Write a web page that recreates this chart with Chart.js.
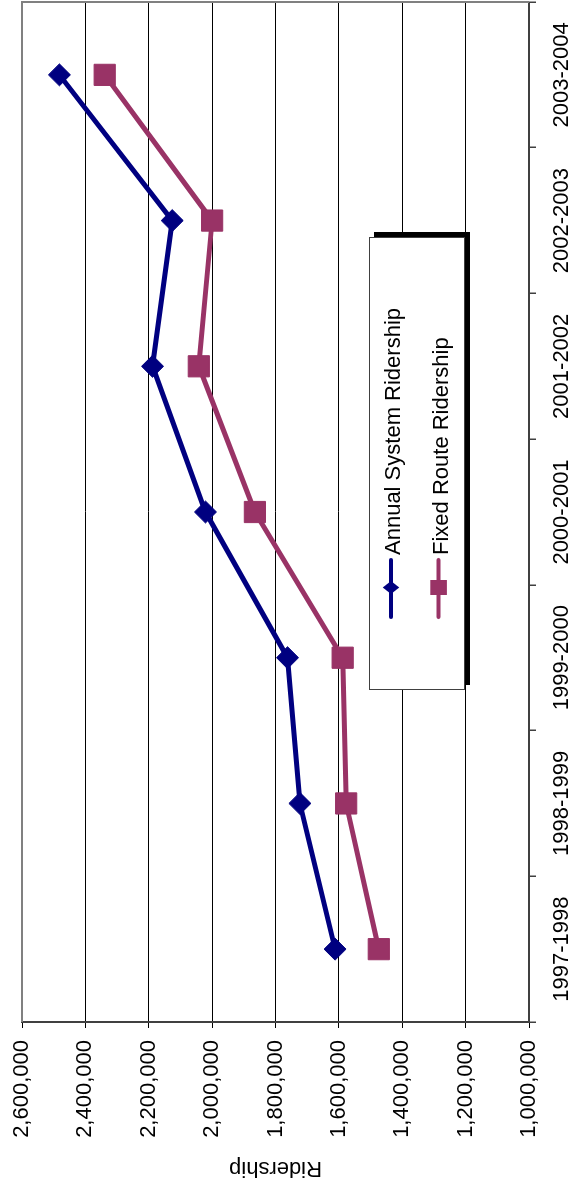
<!DOCTYPE html>
<html>
<head>
<meta charset="utf-8">
<title>Ridership</title>
<script src="https://cdn.jsdelivr.net/npm/chart.js@4/dist/chart.umd.min.js"></script>
<style>
  html, body { margin: 0; padding: 0; background: #fff; overflow: hidden; }
  body { width: 578px; height: 1181px; position: relative; }
  /* The chart is laid out landscape and turned a quarter turn counter-clockwise. */
  #frame {
    position: absolute; left: 0; top: 0;
    width: 1181px; height: 578px;
    transform-origin: 0 0;
    transform: translate(0, 1181px) rotate(-90deg);
  }
  canvas { display: block; }
</style>
</head>
<body>
<div id="frame"><canvas id="ridership" width="1181" height="578"></canvas></div>
<script>
// Fiscal years on the category axis
const fiscalYears = ['1997-1998', '1998-1999', '1999-2000', '2000-2001', '2001-2002', '2002-2003', '2003-2004'];

// Annual riders per year
const annualSystemRidership = [1612000, 1723000, 1762000, 2021000, 2188000, 2126000, 2482000];
const fixedRouteRidership   = [1474000, 1577000, 1588000, 1865000, 2042000, 2000000, 2339000];

// Value axis range and step
const ridershipMin = 1000000;
const ridershipMax = 2600000;
const ridershipStep = 200000;

const FONT = { family: '"Liberation Sans", Arial, sans-serif', size: 22 };
const NAVY = '#000080';
const PLUM = '#993366';

// Grey frame on the two open sides of the plot area
const plotFrame = {
  id: 'plotFrame',
  beforeDatasetsDraw(chart) {
    const { ctx, chartArea: a } = chart;
    ctx.save();
    ctx.strokeStyle = '#808080';
    ctx.lineWidth = 2;
    ctx.beginPath();
    ctx.moveTo(a.left, a.top);
    ctx.lineTo(a.right, a.top);
    ctx.lineTo(a.right, a.bottom);
    ctx.stroke();
    ctx.restore();
  }
};

// Boxed legend with a drop shadow, placed inside the plot
const boxedLegend = {
  id: 'boxedLegend',
  afterDatasetsDraw(chart) {
    const ctx = chart.ctx;
    const box = { x: 491, y: 369, w: 453, h: 96 };
    ctx.save();
    ctx.fillStyle = '#000';
    ctx.fillRect(box.x + 5, box.y + 5, box.w, box.h);
    ctx.fillStyle = '#fff';
    ctx.fillRect(box.x, box.y, box.w, box.h);
    ctx.strokeStyle = '#404040';
    ctx.lineWidth = 1;
    ctx.strokeRect(box.x + 0.5, box.y + 0.5, box.w - 1, box.h - 1);

    chart.data.datasets.forEach((ds, i) => {
      const cy = box.y + 22 + i * 47.6;
      const x0 = box.x + 73, x1 = box.x + 130, mx = box.x + 102.5;
      ctx.strokeStyle = ds.borderColor;
      ctx.lineWidth = 4;
      ctx.lineCap = 'round';
      ctx.beginPath();
      ctx.moveTo(x0, cy);
      ctx.lineTo(x1, cy);
      ctx.stroke();

      ctx.fillStyle = ds.borderColor;
      ctx.beginPath();
      if (ds.pointStyle === 'rectRot') {
        ctx.moveTo(mx - 6.5, cy);
        ctx.lineTo(mx, cy - 8.3);
        ctx.lineTo(mx + 6.5, cy);
        ctx.lineTo(mx, cy + 8.3);
        ctx.closePath();
      } else {
        ctx.rect(mx - 7.5, cy - 8.3, 15, 16.6);
      }
      ctx.fill();

      ctx.fillStyle = '#000';
      ctx.font = `${FONT.size}px ${FONT.family}`;
      ctx.textAlign = 'left';
      ctx.textBaseline = 'alphabetic';
      ctx.fillText(ds.label, box.x + 135, cy + 9);
    });
    ctx.restore();
  }
};

new Chart(document.getElementById('ridership'), {
  type: 'line',
  data: {
    labels: fiscalYears,
    datasets: [
      {
        label: 'Annual System Ridership',
        data: annualSystemRidership,
        borderColor: NAVY,
        backgroundColor: NAVY,
        borderWidth: 5,
        borderJoinStyle: 'round',
        borderCapStyle: 'round',
        pointStyle: 'rectRot',
        pointRadius: 11,
        pointBorderWidth: 1,
        pointBackgroundColor: NAVY,
        pointBorderColor: NAVY,
        tension: 0
      },
      {
        label: 'Fixed Route Ridership',
        data: fixedRouteRidership,
        borderColor: PLUM,
        backgroundColor: PLUM,
        borderWidth: 5,
        borderJoinStyle: 'round',
        borderCapStyle: 'round',
        pointStyle: 'rect',
        pointRadius: 15,
        pointBorderWidth: 1,
        pointBackgroundColor: PLUM,
        pointBorderColor: PLUM,
        tension: 0
      }
    ]
  },
  options: {
    responsive: false,
    devicePixelRatio: 1,
    animation: false,
    events: [],
    layout: { autoPadding: false, padding: { top: 22, right: 2, bottom: 0, left: 0 } },
    plugins: {
      legend: { display: false },
      tooltip: { enabled: false }
    },
    scales: {
      x: {
        type: 'category',
        offset: true,
        grid: {
          offset: true,
          drawOnChartArea: false,
          drawTicks: true,
          tickLength: 7,
          tickColor: '#404040',
          lineWidth: 1.5
        },
        border: { display: true, color: '#404040', width: 2 },
        ticks: {
          color: '#000',
          font: FONT,
          padding: 13,
          autoSkip: false,
          maxRotation: 0,
          minRotation: 0
        },
        afterFit(scale) {
          scale.height = 49;
          scale.paddingLeft = 0;
          scale.paddingRight = 0;
        }
      },
      y: {
        min: ridershipMin,
        max: ridershipMax,
        grid: {
          color: (c) => (c.tick && (c.tick.value === ridershipMax || c.tick.value === ridershipMin)) ? 'rgba(0,0,0,0)' : '#000',
          lineWidth: 1,
          tickLength: 6,
          tickColor: '#000'
        },
        border: { display: true, color: '#404040', width: 2 },
        ticks: {
          stepSize: ridershipStep,
          color: '#000',
          font: FONT,
          padding: 12,
          callback: (v) => Number(v).toLocaleString('en-US')
        },
        title: {
          display: true,
          text: 'Ridership',
          color: '#000',
          font: FONT,
          padding: { top: 0, bottom: 0 }
        },
        afterFit(scale) {
          scale.width = 159;
          scale.paddingTop = 0;
          scale.paddingBottom = 0;
        }
      }
    }
  },
  plugins: [plotFrame, boxedLegend]
});
</script>
</body>
</html>
